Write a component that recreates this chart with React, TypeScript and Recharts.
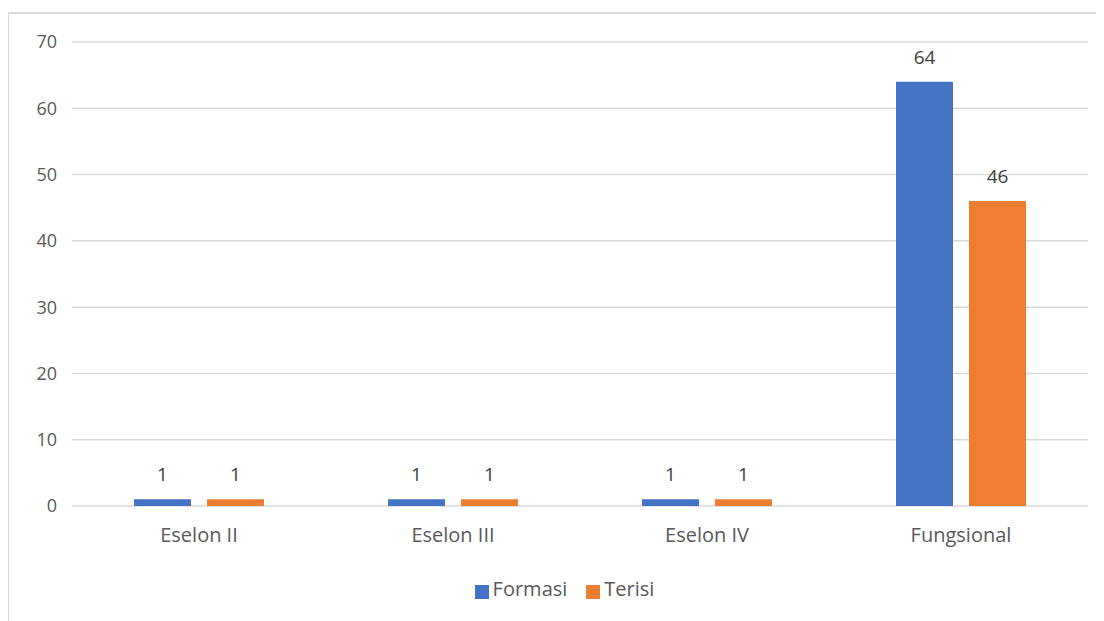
import { BarChart, Bar, XAxis, YAxis, CartesianGrid, Legend, LabelList } from "recharts";

const categories = ["Eselon II", "Eselon III", "Eselon IV", "Fungsional"];
const formasi = [1, 1, 1, 64];
const terisi = [1, 1, 1, 46];
const yTicks = [0, 10, 20, 30, 40, 50, 60, 70];

const rows = categories.map((name, i) => ({ name, Formasi: formasi[i], Terisi: terisi[i] }));

const FONT = "'Open Sans', 'Noto Sans', sans-serif";
const TEXT = "#595959";

export default function App() {
  return (
    <div style={{ position: "relative", width: 1096, height: 613, overflow: "hidden", fontFamily: FONT }}>
      {/* rahmen kartu, kanan & bawah terpotong seperti di gambar */}
      <div
        style={{
          position: "absolute",
          left: -1,
          top: 4,
          width: 1300,
          height: 900,
          border: "2px solid #d9d9d9",
          boxSizing: "border-box",
        }}
      />
      <div style={{ position: "absolute", left: 0, top: 0 }}>
        <BarChart
          width={1118}
          height={610}
          data={rows}
          margin={{ top: 34, right: 38, bottom: 3, left: 4 }}
          barCategoryGap="24.4%"
          barGap={16}
        >
          <CartesianGrid vertical={false} stroke="#d9d9d9" strokeWidth={1.5} />
          <XAxis
            dataKey="name"
            height={69}
            axisLine={false}
            tickLine={false}
            tickMargin={16}
            tick={{ fill: TEXT, fontSize: 20, fontFamily: FONT }}
          />
          <YAxis
            width={60}
            domain={[0, 70]}
            ticks={yTicks}
            axisLine={false}
            tickLine={false}
            tickMargin={9}
            tick={{ fill: TEXT, fontSize: 18, fontFamily: FONT }}
          />
          <Legend
            verticalAlign="bottom"
            height={40}
            iconType="square"
            iconSize={14}
            wrapperStyle={{ left: 28 }}
            formatter={(v: string) => (
              <span style={{ color: TEXT, fontSize: 20, fontFamily: FONT, marginRight: 9 }}>{v}</span>
            )}
          />
          <Bar dataKey="Formasi" fill="#4472C4" barSize={57} isAnimationActive={false}>
            <LabelList dataKey="Formasi" position="top" offset={18} fill="#404040" fontSize={19} fontFamily={FONT} />
          </Bar>
          <Bar dataKey="Terisi" fill="#ED7D31" barSize={57} isAnimationActive={false}>
            <LabelList dataKey="Terisi" position="top" offset={18} fill="#404040" fontSize={19} fontFamily={FONT} />
          </Bar>
        </BarChart>
      </div>
    </div>
  );
}
